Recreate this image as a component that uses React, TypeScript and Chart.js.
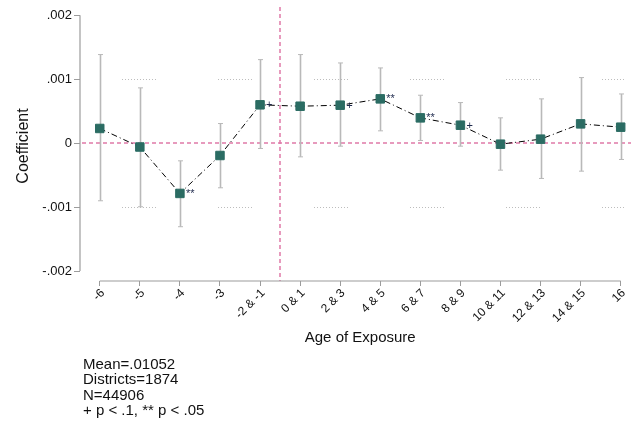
import React, { useEffect, useRef } from 'react';
import { Chart, registerables } from 'chart.js';

Chart.register(...registerables);

// ---- data ----
const categories = ['-6', '-5', '-4', '-3', '-2 & -1', '0 & 1', '2 & 3', '4 & 5', '6 & 7', '8 & 9', '10 & 11', '12 & 13', '14 & 15', '16'];
const coefficients = [0.00023, -0.00006, -0.000786, -0.000193, 0.0006, 0.000578, 0.000594, 0.000693, 0.000396, 0.000281, -0.000016, 0.0000625, 0.000302, 0.00025];
const ciUpper = [0.001386, 0.000865, -0.000276, 0.000307, 0.001307, 0.001386, 0.001255, 0.001177, 0.00075, 0.000635, 0.000396, 0.000693, 0.001026, 0.00077];
const ciLower = [-0.000901, -0.000995, -0.001307, -0.000698, -0.000083, -0.000214, -0.000047, 0.000193, 0.000042, -0.000047, -0.000422, -0.000552, -0.000438, -0.000255];
const significance = ['', '', '**', '', '+', '', '+', '**', '**', '+', '', '', '', ''];
const yTicks = [-0.002, -0.001, 0, 0.001, 0.002];
const yTickLabels = ['-.002', '-.001', '0', '.001', '.002'];
const dottedRefLines = [0.001, -0.001];
const zeroLine = 0;
const exposureBoundary = 4.5; // between "-2 & -1" and "0 & 1"
const notes = ['Mean=.01052', 'Districts=1874', 'N=44906', '+ p < .1, ** p < .05'];
const xTitle = 'Age of Exposure';
const yTitle = 'Coefficient';

const FONT = "'Liberation Sans', Arial, sans-serif";
const PINK = '#e07aa8';
const GRAY_AXIS = '#9c9c9c';
const GRAY_CI = '#b9b9b9';
const MARKER = '#2b6c63';
const TEXT = '#111111';

const overlayPlugin = {
  id: 'stataOverlay',
  beforeDatasetsDraw(chart: any) {
    const { ctx, chartArea, scales } = chart;
    const xs = scales.x;
    const ys = scales.y;
    ctx.save();

    // dotted reference lines at +/- .001
    const dash: number[] = [];
    for (let i = 0; i < 12; i++) dash.push(1, 2);
    dash[dash.length - 1] += 60;
    ctx.strokeStyle = '#bdbdbd';
    ctx.lineWidth = 1;
    ctx.setLineDash(dash);
    ctx.lineDashOffset = 54;
    dottedRefLines.forEach((v) => {
      const y = Math.round(ys.getPixelForValue(v)) + 0.5;
      ctx.beginPath();
      ctx.moveTo(chartArea.left, y);
      ctx.lineTo(chartArea.right - 5, y);
      ctx.stroke();
    });

    // pink zero line and vertical boundary
    ctx.strokeStyle = PINK;
    ctx.lineWidth = 1.5;
    ctx.setLineDash([4, 3]);
    ctx.lineDashOffset = 0;
    const y0 = Math.round(ys.getPixelForValue(zeroLine));
    ctx.beginPath();
    ctx.moveTo(chartArea.left + 2, y0);
    ctx.lineTo(chartArea.right, y0);
    ctx.stroke();
    const xb = Math.round(xs.getPixelForValue(exposureBoundary));
    ctx.beginPath();
    ctx.moveTo(xb, chartArea.top);
    ctx.lineTo(xb, chartArea.bottom);
    ctx.stroke();
    ctx.setLineDash([]);

    // axis lines (Stata style: spanning ticks only)
    ctx.strokeStyle = GRAY_AXIS;
    ctx.lineWidth = 1.2;
    const yTop = ys.getPixelForValue(yTicks[yTicks.length - 1]);
    const yBot = ys.getPixelForValue(yTicks[0]);
    ctx.beginPath();
    ctx.moveTo(chartArea.left, yTop);
    ctx.lineTo(chartArea.left, yBot);
    ctx.stroke();
    const xl = xs.getPixelForValue(0);
    const xr = xs.getPixelForValue(categories.length - 1);
    ctx.beginPath();
    ctx.moveTo(xl, chartArea.bottom);
    ctx.lineTo(xr, chartArea.bottom);
    ctx.stroke();

    // confidence intervals
    ctx.strokeStyle = GRAY_CI;
    categories.forEach((_, i) => {
      const x = Math.round(xs.getPixelForValue(i)) + 0.5;
      const yu = ys.getPixelForValue(ciUpper[i]);
      const yl = ys.getPixelForValue(ciLower[i]);
      ctx.lineWidth = 1.6;
      ctx.beginPath();
      ctx.moveTo(x, yu);
      ctx.lineTo(x, yl);
      ctx.stroke();
      ctx.lineWidth = 1;
      ctx.beginPath();
      ctx.moveTo(x - 2.5, yu);
      ctx.lineTo(x + 2.5, yu);
      ctx.moveTo(x - 2.5, yl);
      ctx.lineTo(x + 2.5, yl);
      ctx.stroke();
    });
    ctx.restore();
  },
  afterDatasetsDraw(chart: any) {
    const { ctx, scales } = chart;
    const xs = scales.x;
    const ys = scales.y;
    ctx.save();
    ctx.fillStyle = '#1f2a4d';
    ctx.font = `11px ${FONT}`;
    ctx.textAlign = 'left';
    ctx.textBaseline = 'alphabetic';
    significance.forEach((s, i) => {
      if (!s) return;
      const x = xs.getPixelForValue(i);
      const y = ys.getPixelForValue(coefficients[i]);
      ctx.fillText(s, x + 6, y + 3.5);
    });
    ctx.restore();
  },
  afterDraw(chart: any) {
    const { ctx, scales, chartArea } = chart;
    const xs = scales.x;
    ctx.save();
    ctx.fillStyle = TEXT;
    // x title centred on the axis line
    ctx.font = `15px ${FONT}`;
    ctx.textAlign = 'center';
    ctx.textBaseline = 'alphabetic';
    const cx = (xs.getPixelForValue(0) + xs.getPixelForValue(categories.length - 1)) / 2;
    ctx.fillText(xTitle, cx, chartArea.bottom + 61);
    // y title
    ctx.save();
    ctx.font = `16px ${FONT}`;
    ctx.translate(27.5, 146);
    ctx.rotate(-Math.PI / 2);
    ctx.fillText(yTitle, 0, 0);
    ctx.restore();
    // notes
    ctx.font = `15px ${FONT}`;
    ctx.textAlign = 'left';
    ctx.textBaseline = 'middle';
    notes.forEach((t, i) => {
      ctx.fillText(t, 83, chartArea.bottom + 83.5 + i * 15.6);
    });
    ctx.restore();
  },
};

export default function App() {
  const canvasRef = useRef<HTMLCanvasElement | null>(null);

  useEffect(() => {
    const canvas = canvasRef.current;
    if (!canvas) return;
    const points = coefficients.map((v, i) => ({ x: i, y: v }));
    const chart = new Chart(canvas, {
      type: 'line',
      data: {
        datasets: [
          {
            data: points,
            borderColor: '#000000',
            borderWidth: 1,
            borderDash: [6, 3, 1, 3],
            pointStyle: 'rect',
            pointRadius: 6,
            pointHoverRadius: 6,
            pointBackgroundColor: MARKER,
            pointBorderColor: MARKER,
            pointBorderWidth: 1,
            tension: 0,
          },
        ],
      },
      options: {
        responsive: false,
        animation: false,
        events: [],
        layout: { padding: { top: 7, left: 0, right: 0, bottom: 0 } },
        plugins: {
          legend: { display: false },
          tooltip: { enabled: false },
        },
        scales: {
          x: {
            type: 'linear',
            min: -0.493,
            max: 13.257,
            afterBuildTicks: (scale: any) => {
              scale.ticks = categories.map((_, i) => ({ value: i }));
            },
            afterFit: (scale: any) => {
              scale.height = 144;
              scale.paddingLeft = 0;
              scale.paddingRight = 0;
            },
            ticks: {
              autoSkip: false,
              minRotation: 45,
              maxRotation: 45,
              padding: 0,
              labelOffset: 3,
              color: TEXT,
              font: { family: FONT, size: 12 },
              callback: (_v: any, index: number) => categories[index],
            },
            grid: {
              drawOnChartArea: false,
              drawTicks: true,
              tickLength: 5,
              tickColor: GRAY_AXIS,
              tickWidth: 1,
            },
            border: { display: false },
          },
          y: {
            type: 'linear',
            min: -0.002156,
            max: 0.00213,
            afterBuildTicks: (scale: any) => {
              scale.ticks = yTicks.map((v) => ({ value: v }));
            },
            afterFit: (scale: any) => {
              scale.width = 80;
              scale.paddingTop = 0;
              scale.paddingBottom = 0;
            },
            ticks: {
              padding: 2,
              color: TEXT,
              font: { family: FONT, size: 13 },
              callback: (v: any) => {
                const idx = yTicks.indexOf(v);
                return idx >= 0 ? yTickLabels[idx] : '';
              },
            },
            grid: {
              drawOnChartArea: false,
              drawTicks: true,
              tickLength: 6,
              tickColor: GRAY_AXIS,
              tickWidth: 1,
            },
            border: { display: false },
          },
        },
      },
      plugins: [overlayPlugin],
    } as any);
    return () => chart.destroy();
  }, []);

  return (
    <div style={{ position: 'absolute', left: 0, top: 0, width: 638, height: 425, background: '#ffffff' }}>
      <canvas ref={canvasRef} width={638} height={425} style={{ display: 'block' }} />
    </div>
  );
}
